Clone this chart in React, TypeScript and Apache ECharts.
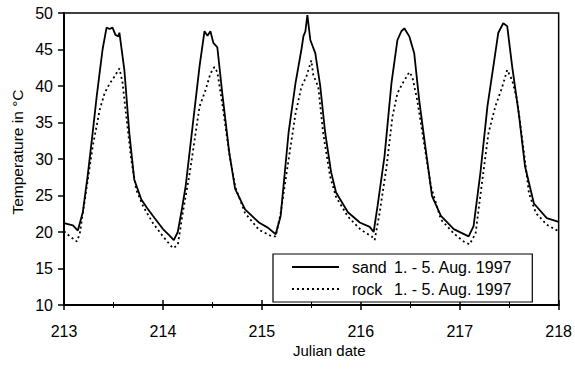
import React, { useEffect, useRef } from "react";
import * as echarts from "echarts";

const sandDays = [
  213.0, 213.06, 213.09, 213.14, 213.19, 213.24, 213.29, 213.33, 213.36, 213.39, 213.43, 213.46, 213.49, 213.52, 213.55, 213.56,
  213.61, 213.66, 213.71, 213.78, 213.84, 213.9, 214.0, 214.06, 214.11, 214.15, 214.19, 214.23, 214.3, 214.37, 214.42,
  214.45, 214.48, 214.51, 214.55, 214.6, 214.67, 214.73, 214.83, 214.97, 215.06, 215.14, 215.19, 215.27, 215.34, 215.4,
  215.42, 215.44, 215.46, 215.49, 215.54, 215.59, 215.64, 215.7, 215.75, 215.87, 215.99, 216.09, 216.13, 216.17, 216.24,
  216.31, 216.37, 216.41, 216.44, 216.49, 216.54, 216.59, 216.66, 216.72, 216.81, 216.94, 217.09, 217.14, 217.21, 217.28,
  217.34, 217.39, 217.44, 217.48, 217.53, 217.6, 217.66, 217.75, 217.88, 218.0,
];
const sandTemps = [
  21.2, 21.0, 20.9, 20.2, 22.7, 27.8, 33.6, 38.5, 41.8, 45.0, 48.0, 47.8, 48.0, 47.0, 46.8, 47.3,
  42.2, 33.6, 27.2, 24.5, 23.3, 22.2, 20.4, 19.6, 18.9, 20.0, 23.0, 26.3, 34.5, 42.7, 47.5,
  46.9, 47.5, 45.9, 45.3, 39.0, 30.9, 25.9, 23.1, 21.3, 20.6, 19.7, 22.2, 33.6, 40.4, 45.0,
  46.8, 47.5, 49.7, 46.3, 44.5, 40.0, 33.6, 28.2, 25.4, 22.7, 21.3, 20.7, 20.0, 23.6, 30.4,
  40.4, 46.3, 47.5, 47.9, 46.8, 44.5, 38.1, 30.9, 24.9, 22.2, 20.4, 19.4, 20.8, 28.2, 37.2,
  42.7, 47.3, 48.6, 48.2, 42.7, 35.9, 29.0, 23.9, 21.9, 21.4,
];

const rockDays = [
  213.0, 213.06, 213.13, 213.16, 213.23, 213.29, 213.36, 213.41, 213.46, 213.51, 213.56, 213.59, 213.63, 213.68, 213.73,
  213.8, 213.9, 214.0, 214.1, 214.15, 214.2, 214.27, 214.32, 214.37, 214.43, 214.48, 214.52, 214.55, 214.6, 214.67,
  214.73, 214.83, 214.97, 215.1, 215.14, 215.19, 215.27, 215.34, 215.4, 215.45, 215.5, 215.52, 215.57, 215.62, 215.69,
  215.75, 215.87, 216.0, 216.11, 216.14, 216.19, 216.26, 216.32, 216.37, 216.42, 216.49, 216.52, 216.57, 216.64, 216.71,
  216.81, 216.94, 217.04, 217.1, 217.16, 217.22, 217.29, 217.36, 217.43, 217.48, 217.53, 217.58, 217.65, 217.7, 217.77,
  217.88, 218.0,
];
const rockTemps = [
  20.1, 19.4, 18.7, 19.8, 26.2, 31.7, 36.7, 39.0, 40.3, 41.3, 42.4, 40.6, 35.8, 29.9, 25.8,
  23.5, 21.2, 19.4, 17.8, 18.2, 22.6, 28.0, 32.6, 37.2, 39.4, 41.7, 42.6, 41.9, 37.6, 30.8,
  26.2, 22.6, 20.3, 19.4, 19.4, 22.6, 29.9, 36.2, 39.9, 41.3, 43.5, 41.5, 39.9, 33.5, 27.6,
  24.8, 22.1, 20.3, 19.4, 18.9, 22.6, 28.9, 35.8, 39.0, 40.3, 41.9, 41.3, 38.1, 32.1, 26.2,
  21.7, 19.8, 18.7, 18.3, 19.8, 26.2, 33.5, 37.2, 39.9, 42.2, 40.8, 38.1, 30.8, 25.3, 22.6,
  21.0, 20.1,
];

const seriesNames = ["sand", "rock"];
const legendPeriod = "1. - 5. Aug. 1997";
const xAxisTitle = "Julian date";
const yAxisTitle = "Temperature in °C";

const FONT = "'Liberation Sans', Arial, sans-serif";

export default function App() {
  const ref = useRef<HTMLDivElement>(null);
  useEffect(() => {
    if (!ref.current) return;
    const chart = echarts.init(ref.current, undefined, { renderer: "svg" });
    const sandData = sandDays.map((d, i) => [d, sandTemps[i]]);
    const rockData = rockDays.map((d, i) => [d, rockTemps[i]]);
    chart.setOption({
      animation: false,
      backgroundColor: "#fff",
      textStyle: { fontFamily: FONT },
      grid: {
        left: 64,
        right: 14,
        top: 13,
        bottom: 65,
        show: true,
        borderColor: "#000",
        borderWidth: 1.5,
        containLabel: false,
      },
      xAxis: [
        {
          type: "value",
          min: 213,
          max: 218,
          interval: 1,
          axisLine: { show: true, onZero: false, lineStyle: { color: "#000", width: 2 } },
          axisTick: { show: true, inside: false, length: 5, lineStyle: { color: "#000", width: 1.5 } },
          minorTick: { show: true, splitNumber: 2, length: 3, lineStyle: { color: "#000", width: 1 } },
          axisLabel: { color: "#000", fontSize: 16, margin: 18, fontFamily: FONT },
          splitLine: { show: false },
        },
        {
          type: "value",
          min: 213,
          max: 218,
          interval: 1,
          position: "bottom",
          axisLine: { show: false, onZero: false },
          axisTick: { show: true, inside: true, length: 5, lineStyle: { color: "#000", width: 1.5 } },
          minorTick: { show: true, splitNumber: 2, length: 3, lineStyle: { color: "#000", width: 1 } },
          axisLabel: { show: false },
          splitLine: { show: false },
        },
      ],
      yAxis: {
        type: "value",
        min: 10,
        max: 50,
        interval: 5,
        axisLine: { show: true, onZero: false, lineStyle: { color: "#000", width: 2 } },
        axisTick: { show: true, inside: false, length: 6, lineStyle: { color: "#000", width: 1.5 } },
        axisLabel: { color: "#000", fontSize: 16, margin: 11, fontFamily: FONT },
        splitLine: { show: false },
      },
      legend: {
        orient: "vertical",
        left: 273,
        top: 254,
        padding: [5, 20, 5, 18],
        itemWidth: 47,
        itemHeight: 14,
        itemGap: 6,
        borderColor: "#000",
        borderWidth: 1.2,
        borderRadius: 0,
        backgroundColor: "#fff",
        itemStyle: { opacity: 0 },
        data: seriesNames,
        formatter: (name: string) => `{a|${name}}{b|${legendPeriod}}`,
        textStyle: {
          color: "#000",
          fontFamily: FONT,
          fontSize: 16,
          rich: {
            a: { fontSize: 16, fontFamily: FONT, color: "#000", width: 42, padding: [0, 0, 0, 8] },
            b: { fontSize: 16, fontFamily: FONT, color: "#000" },
          },
        },
      },
      graphic: [
        {
          type: "text",
          left: 293,
          top: 343,
          style: { text: xAxisTitle, fill: "#000", fontSize: 15, fontFamily: FONT },
        },
        {
          type: "text",
          x: 17,
          y: 152,
          rotation: Math.PI / 2,
          style: {
            text: yAxisTitle,
            fill: "#000",
            fontSize: 15.5,
            fontFamily: FONT,
            align: "center",
            verticalAlign: "middle",
          },
        },
      ],
      series: [
        {
          name: seriesNames[0],
          type: "line",
          data: sandData,
          showSymbol: false,
          symbol: "none",
          lineStyle: { color: "#000", width: 1.8, type: "solid" },
          itemStyle: { color: "#000" },
          z: 3,
        },
        {
          name: seriesNames[1],
          type: "line",
          data: rockData,
          showSymbol: false,
          symbol: "none",
          lineStyle: { color: "#000", width: 1.8, type: [2, 3] },
          itemStyle: { color: "#000" },
          z: 2,
        },
      ],
    });
    return () => chart.dispose();
  }, []);
  return (
    <div
      ref={ref}
      style={{ position: "absolute", left: 0, top: 0, width: 575, height: 370 }}
    />
  );
}
